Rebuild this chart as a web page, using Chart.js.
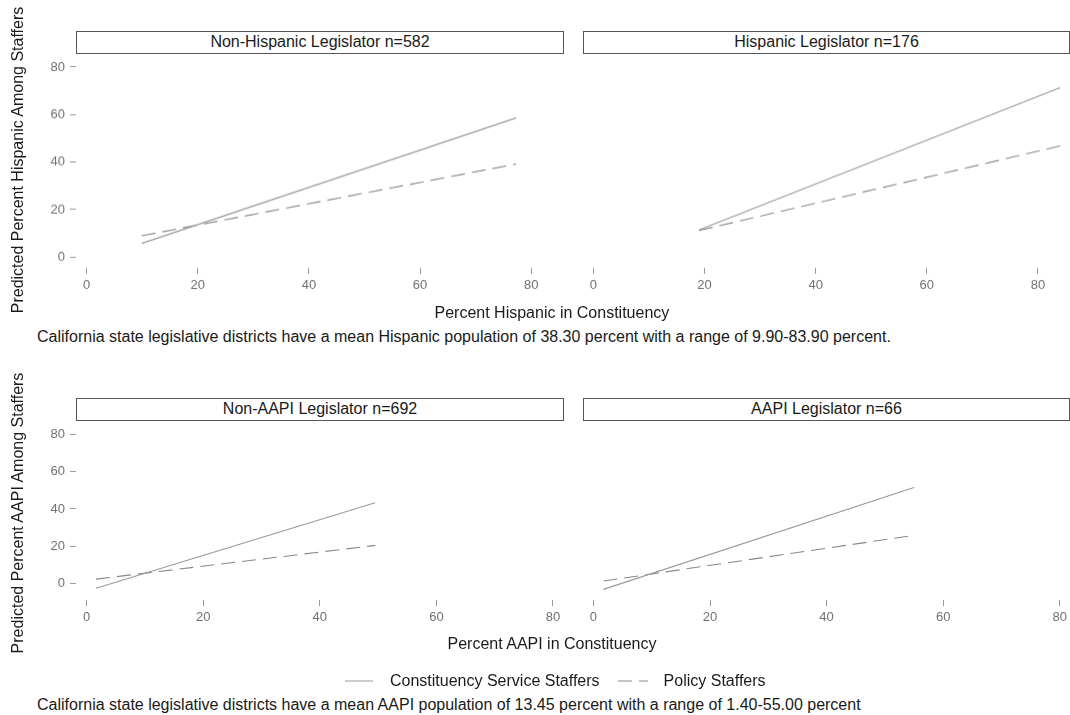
<!DOCTYPE html>
<html>
<head>
<meta charset="utf-8">
<script src="https://cdn.jsdelivr.net/npm/chart.js@4.4.1/dist/chart.umd.min.js"></script>
<style>
  body { margin: 0; background: #fff; width: 1070px; height: 715px; overflow: hidden; position: relative;
         font-family: "Liberation Sans", Arial, sans-serif; color: #1a1a1a; }
  canvas { position: absolute; }
  .strip { position: absolute; box-sizing: border-box; border: 1.5px solid #555; font-size: 16px;
           text-align: center; line-height: 20px; background: #fff; }
  .txt { position: absolute; white-space: nowrap; font-size: 16px; }
  .ytitle { position: absolute; white-space: nowrap; font-size: 16px; transform: translate(-50%, -50%) rotate(-90deg); }
</style>
</head>
<body>
<canvas id="c1"></canvas>
<canvas id="c2"></canvas>
<canvas id="c3"></canvas>
<canvas id="c4"></canvas>

<div class="strip" style="left:76px;top:31px;width:488px;height:23px;">Non-Hispanic Legislator n=582</div>
<div class="strip" style="left:583px;top:31px;width:487px;height:23px;">Hispanic Legislator n=176</div>
<div class="strip" style="left:76px;top:398px;width:488px;height:23px;">Non-AAPI Legislator n=692</div>
<div class="strip" style="left:583px;top:398px;width:487px;height:23px;">AAPI Legislator n=66</div>

<div class="ytitle" style="left:18px;top:160px;">Predicted Percent Hispanic Among Staffers</div>
<div class="ytitle" style="left:18px;top:513px;">Predicted Percent AAPI Among Staffers</div>

<div class="txt" id="xt1" style="top:304px;">Percent Hispanic in Constituency</div>
<div class="txt" style="left:37px;top:328px;">California state legislative districts have a mean Hispanic population of 38.30 percent with a range of 9.90-83.90 percent.</div>
<div class="txt" id="xt2" style="top:635px;">Percent AAPI in Constituency</div>

<div class="txt" style="left:345px;top:671px;">
  <svg width="28" height="10" style="vertical-align:middle;margin-right:17px;"><line x1="0" y1="5" x2="28" y2="5" stroke="#999" stroke-width="1"/></svg><span style="vertical-align:middle;">Constituency Service Staffers</span><svg width="30" height="10" style="vertical-align:middle;margin-left:18px;margin-right:16px;"><line x1="0" y1="5" x2="30" y2="5" stroke="#888" stroke-width="1" stroke-dasharray="14 7"/></svg><span style="vertical-align:middle;">Policy Staffers</span>
</div>
<div class="txt" style="left:37px;top:696px;">California state legislative districts have a mean AAPI population of 13.45 percent with a range of 1.40-55.00 percent</div>

<script>
// x = percent in constituency, y = predicted percent among staffers
var hispNonX = [9.9, 77.3];
var hispNonConst = [5.8, 58.6];
var hispNonPolicy = [9.0, 39.2];

var hispHisX = [19.0, 84.0];
var hispHisConst = [11.2, 70.3];
var hispHisPolicy = [11.0, 46.1];

var aapiNonX = [1.6, 49.5];
var aapiNonConst = [-2.5, 43.3];
var aapiNonPolicy = [2.4, 20.5];

var aapiAapiX = [1.7, 55.0];
var aapiAapiConst = [-3.2, 50.6];
var aapiAapiPolicy = [1.2, 25.3];

var xTicks = [0, 20, 40, 60, 80];
var yTicks = [0, 20, 40, 60, 80];

var FONT = '"Liberation Sans", Arial, sans-serif';
var YW = 60, XH = 40, PT = 10, PR = 10;

function pts(xs, ys){
  var out = [];
  for (var i = 0; i < xs.length; i++) out.push({x: xs[i], y: ys[i]});
  return out;
}

// area = chart area in page pixels; showY = draw the y axis ticks (left column only)
function makePanel(id, area, xr, yr, xs, cs, ps, showY){
  var cv = document.getElementById(id);
  var w = area.right - area.left + YW + PR;
  var h = area.bottom - area.top + PT + XH;
  cv.style.left = (area.left - YW) + 'px';
  cv.style.top = (area.top - PT) + 'px';
  cv.style.width = w + 'px';
  cv.style.height = h + 'px';
  cv.width = w; cv.height = h;
  var tickStyle = {color: '#707070', font: {family: FONT, size: 13}};
  return new Chart(cv.getContext('2d'), {
    type: 'scatter',
    data: {
      datasets: [
        {label: 'Constituency Service Staffers', data: pts(xs, cs), showLine: true, borderColor: '#999',
         borderWidth: 1.1, pointRadius: 0, fill: false},
        {label: 'Policy Staffers', data: pts(xs, ps), showLine: true, borderColor: '#888',
         borderWidth: 1.1, borderDash: [14, 7], pointRadius: 0, fill: false}
      ]
    },
    options: {
      responsive: false, animation: false,
      layout: {padding: {left: 0, top: PT, right: PR, bottom: 0}},
      plugins: {legend: {display: false}, tooltip: {enabled: false}},
      scales: {
        x: {
          type: 'linear', min: xr[0], max: xr[1],
          afterBuildTicks: function(s){ s.ticks = xTicks.map(function(v){ return {value: v}; }); },
          afterFit: function(s){ s.height = XH; },
          border: {display: false},
          grid: {display: true, drawOnChartArea: false, drawTicks: true, tickLength: 6, color: '#999', lineWidth: 1},
          ticks: Object.assign({padding: 4, maxRotation: 0}, tickStyle)
        },
        y: {
          type: 'linear', min: yr[0], max: yr[1],
          afterBuildTicks: function(s){ s.ticks = yTicks.map(function(v){ return {value: v}; }); },
          afterFit: function(s){ s.width = YW; },
          border: {display: false},
          grid: {display: showY, drawOnChartArea: false, drawTicks: true, tickLength: 6, color: '#999', lineWidth: 1},
          ticks: Object.assign({padding: 5, display: showY}, tickStyle)
        }
      }
    }
  });
}

makePanel('c1', {left: 76, right: 564, top: 58, bottom: 267.5}, [-1.93, 85.9], [-4.5, 82.6], hispNonX, hispNonConst, hispNonPolicy, true);
makePanel('c2', {left: 583, right: 1069, top: 58, bottom: 267.5}, [-1.87, 85.6], [-4.5, 82.6], hispHisX, hispHisConst, hispHisPolicy, false);
makePanel('c3', {left: 76, right: 564, top: 426, bottom: 600}, [-1.84, 81.9], [-8.8, 83], aapiNonX, aapiNonConst, aapiNonPolicy, true);
makePanel('c4', {left: 583, right: 1069, top: 426, bottom: 600}, [-1.8, 81.6], [-8.8, 83], aapiAapiX, aapiAapiConst, aapiAapiPolicy, false);

// center the x titles on the whole figure width
['xt1', 'xt2'].forEach(function(id){
  var el = document.getElementById(id);
  el.style.left = (552 - el.offsetWidth / 2) + 'px';
});
</script>
</body>
</html>
